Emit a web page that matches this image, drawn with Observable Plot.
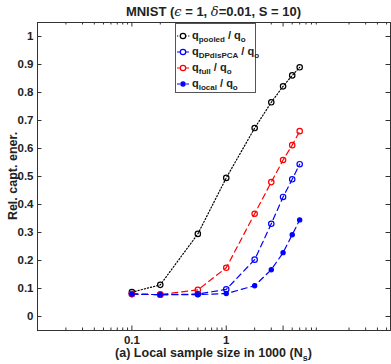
<!DOCTYPE html>
<html>
<head>
<meta charset="utf-8">
<script src="https://cdn.jsdelivr.net/npm/d3@7"></script>
<script src="https://cdn.jsdelivr.net/npm/@observablehq/plot@0.6"></script>
<style>
  html, body { margin: 0; padding: 0; background: #fff; }
  #wrap { position: relative; width: 391px; height: 364px; font-family: "Liberation Sans", Arial, sans-serif; font-weight: bold; color: #222; }
  #plot svg { position: absolute; left: 0; top: 0; }
  .abs { position: absolute; white-space: nowrap; }
  #title { left: 0; width: 427px; top: 4px; text-align: center; font-size: 13px; }
  #xlabel { left: 0; width: 427px; top: 346px; text-align: center; font-size: 12.5px; }
  #ylabel { left: 13px; top: 176px; font-size: 12.5px; transform: translate(-50%, -50%) rotate(-90deg); }
  #legend { left: 175px; top: 23px; width: 81px; height: 70px; border: 1px solid #555; background: #fff; box-sizing: border-box; }
  .row { position: absolute; left: 0; height: 16px; font-size: 11px; line-height: 16px; }
  .row svg { vertical-align: middle; margin-right: 1px; }
  .row sub { font-size: 8px; vertical-align: -3px; line-height: 0; }
</style>
</head>
<body>
<div id="wrap">
  <div id="plot"></div>
  <div id="title" class="abs">MNIST (<i style="font-family:'DejaVu Serif',serif;font-weight:normal">ϵ</i> = 1, <i style="font-family:'DejaVu Serif',serif;font-weight:normal">δ</i>=0.01, S = 10)</div>
  <div id="xlabel" class="abs">(a) Local sample size in 1000 (N<sub style="font-size:9px">s</sub>)</div>
  <div id="ylabel" class="abs">Rel. capt. ener.</div>
  <div id="legend" class="abs"></div>
</div>
<script>
// ---- data ----
const sampleSizes = [0.1, 0.2, 0.5, 1, 2, 3, 4, 5, 6];
const pooled   = [0.087, 0.113, 0.295, 0.495, 0.673, 0.765, 0.822, 0.861, 0.890];
const dpdispca = [0.080, 0.078, 0.080, 0.097, 0.203, 0.331, 0.427, 0.490, 0.544];
const full     = [0.080, 0.078, 0.095, 0.174, 0.367, 0.480, 0.559, 0.612, 0.662];
const local    = [0.080, 0.078, 0.078, 0.082, 0.110, 0.167, 0.228, 0.292, 0.345];
const seriesNames = ["pooled", "DPdisPCA", "full", "local"];
const xTickValues = [0.1, 1, 4];
const xTickLabels = ["0.1", "1", "4"];
const yTickValues = [0, 0.1, 0.2, 0.3, 0.4, 0.5, 0.6, 0.7, 0.8, 0.9, 1];
const yTickLabels = ["0", "0.1", "0.2", "0.3", "0.4", "0.5", "0.6", "0.7", "0.8", "0.9", "1"];

// ---- styles ----
const styles = {
  pooled:   {color: "#000000", dash: "1.2,2", fill: "none", r: 2.7},
  DPdisPCA: {color: "#0000ff", dash: "6,4",  fill: "none", r: 2.7},
  full:     {color: "#ff0000", dash: "6,4",  fill: "none", r: 2.7},
  local:    {color: "#0000ff", dash: "6,4",  fill: "#0000ff", r: 2.1}
};
const valuesBySeries = {pooled, DPdisPCA: dpdispca, full, local};

const W = 391, H = 364, mT = 22, mB = 34, mL = 37, mR = 1;
const fw = W - mL - mR, fh = H - mT - mB;

// minor log ticks
const minorX = [];
for (const dec of [0.01, 0.1, 1, 10]) for (let k = 2; k <= 9; k++) {
  const v = +(dec * k).toPrecision(3);
  if (v <= 55 && !xTickValues.includes(v)) minorX.push(v);
}

const marks = [];
// ticks inward
marks.push(Plot.tickX(xTickValues, {x: d => d, stroke: "#333", insetTop: fh - 4.5}));
marks.push(Plot.tickX(xTickValues, {x: d => d, stroke: "#333", insetBottom: fh - 4.5}));
marks.push(Plot.tickX(minorX, {x: d => d, stroke: "#333", insetTop: fh - 2.5}));
marks.push(Plot.tickX(minorX, {x: d => d, stroke: "#333", insetBottom: fh - 2.5}));
marks.push(Plot.tickY(yTickValues, {y: d => d, stroke: "#333", insetRight: fw - 4.5}));
marks.push(Plot.tickY(yTickValues, {y: d => d, stroke: "#333", insetLeft: fw - 4.5}));
marks.push(Plot.frame({stroke: "#333", strokeWidth: 1}));
// axes labels
marks.push(Plot.axisX(xTickValues, {tickSize: 0, tickPadding: 5, fontSize: 11.5, fontWeight: "bold", fill: "#222",
  tickFormat: d => xTickLabels[xTickValues.indexOf(d)], label: null}));
marks.push(Plot.axisY(yTickValues, {tickSize: 0, tickPadding: 4, fontSize: 11.5, fontWeight: "bold", fill: "#222",
  tickFormat: d => yTickLabels[yTickValues.indexOf(d)], label: null}));

for (const name of seriesNames) {
  const s = styles[name];
  const data = sampleSizes.map((x, i) => ({x, y: valuesBySeries[name][i]}));
  marks.push(Plot.line(data, {x: "x", y: "y", stroke: s.color, strokeWidth: 1.2, strokeDasharray: s.dash}));
  marks.push(Plot.dot(data, {x: "x", y: "y", stroke: s.color, fill: s.fill, r: s.r, strokeWidth: 1.2}));
}

const chart = Plot.plot({
  width: W, height: H,
  marginTop: mT, marginBottom: mB, marginLeft: mL, marginRight: mR,
  style: {background: "#fff", fontFamily: "'Liberation Sans', Arial, sans-serif"},
  x: {type: "log", domain: [0.01, 55], axis: null},
  y: {domain: [-0.05, 1.05], axis: null},
  marks
});
document.getElementById("plot").appendChild(chart);

// legend
const legend = document.getElementById("legend");
seriesNames.forEach((name, i) => {
  const s = styles[name];
  const row = document.createElement("div");
  row.className = "row";
  row.style.top = (3 + i * 16) + "px";
  row.innerHTML =
    `<svg width="15" height="16"><line x1="1" x2="14" y1="8" y2="8" stroke="${s.color}" stroke-width="1.2" stroke-dasharray="${name === "pooled" ? "1.2,1.6" : "3,1.5"}"/>` +
    `<circle cx="7" cy="8" r="${s.r}" stroke="${s.color}" fill="${s.fill === "none" ? "#fff" : s.fill}" stroke-width="1.2"/></svg>` +
    `q<sub>${name}</sub> / q<sub>o</sub>`;
  legend.appendChild(row);
});
</script>
</body>
</html>
